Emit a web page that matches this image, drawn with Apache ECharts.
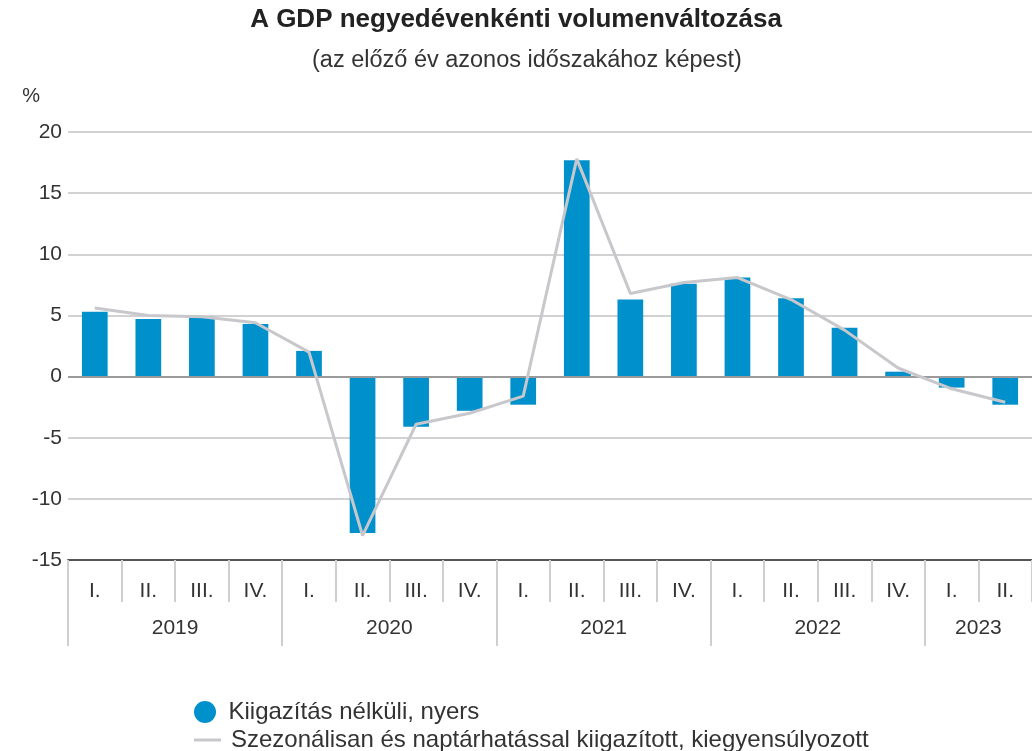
<!DOCTYPE html>
<html>
<head>
<meta charset="utf-8">
<script src="https://cdn.jsdelivr.net/npm/echarts@6/dist/echarts.min.js"></script>
<style>
  html, body { margin: 0; padding: 0; background: #fff; }
  #chart { width: 1032px; height: 751px; }
</style>
</head>
<body>
<div id="chart"></div>
<script>
// quarters 2019 I. .. 2023 II.
const quarters = ['I.', 'II.', 'III.', 'IV.', 'I.', 'II.', 'III.', 'IV.', 'I.', 'II.', 'III.', 'IV.', 'I.', 'II.', 'III.', 'IV.', 'I.', 'II.']
const years = ['2019', '2020', '2021', '2022', '2023']
const yearStart = [0, 4, 8, 12, 16]
const yearMid = [2, 6, 10, 14, 17]

// unadjusted, raw (%)
const rawValues = [5.3, 4.7, 4.9, 4.3, 2.1, -12.8, -4.1, -2.8, -2.3, 17.7, 6.3, 7.6, 8.1, 6.4, 4.0, 0.4, -0.9, -2.3]
// seasonally and calendar adjusted (%)
const adjValues = [5.6, 5.0, 4.9, 4.4, 2.0, -13.0, -3.9, -3.0, -1.6, 17.8, 6.8, 7.7, 8.1, 6.3, 3.8, 0.7, -1.0, -2.1]

const rawName = 'Kiigazítás nélküli, nyers'
const adjName = 'Szezonálisan és naptárhatással kiigazított, kiegyensúlyozott'

const font = 'Arial, "Liberation Sans", sans-serif'
const legendText = { fontSize: 24, color: '#333', fontFamily: font, padding: [0, 0, 0, 5] }

const chart = echarts.init(document.getElementById('chart'))
chart.setOption({
  animation: false,
  textStyle: { fontFamily: font },
  title: [
    {
      text: 'A GDP negyedévenkénti volumenváltozása',
      left: 'center',
      top: 2,
      textStyle: { fontSize: 26, fontWeight: 'bold', color: '#222', fontFamily: font }
    },
    {
      text: '(az előző év azonos időszakához képest)',
      left: 307,
      top: 44,
      textStyle: { fontSize: 23.5, fontWeight: 'normal', color: '#333', fontFamily: font }
    }
  ],
  legend: [
    {
      left: 189,
      top: 695,
      itemWidth: 27,
      itemHeight: 22,
      textStyle: legendText,
      data: [{ name: rawName, icon: 'circle' }]
    },
    {
      left: 189,
      top: 723,
      itemWidth: 27,
      itemHeight: 3,
      textStyle: legendText,
      data: [{ name: adjName, icon: 'rect' }]
    }
  ],
  grid: { left: 68, right: 0, top: 132, bottom: 191, containLabel: false },
  xAxis: [
    {
      type: 'category',
      data: quarters,
      position: 'bottom',
      axisLine: { onZero: false, lineStyle: { color: '#555', width: 2 } },
      axisTick: { show: true, length: 42, lineStyle: { color: '#cfcfcf', width: 2 } },
      axisLabel: { margin: 21, fontSize: 21, color: '#333' },
      splitLine: { show: false }
    },
    {
      type: 'value',
      min: 0,
      max: 18,
      position: 'bottom',
      axisLine: { show: false, onZero: false },
      axisTick: { show: true, length: 86, customValues: yearStart, lineStyle: { color: '#cfcfcf', width: 2 } },
      axisLabel: {
        margin: 58,
        fontSize: 21,
        color: '#333',
        customValues: yearMid,
        formatter: v => years[yearMid.indexOf(v)]
      },
      splitLine: { show: false }
    }
  ],
  yAxis: {
    type: 'value',
    min: -15,
    max: 20,
    interval: 5,
    name: '%',
    nameLocation: 'end',
    nameGap: 26,
    nameTextStyle: { fontSize: 20, color: '#333', align: 'right', padding: [0, 28, 0, 0] },
    axisLine: { show: false },
    axisTick: { show: false },
    axisLabel: { margin: 6, fontSize: 21, color: '#333' },
    splitLine: { lineStyle: { color: '#d2d2d2', width: 2 } }
  },
  series: [
    {
      name: rawName,
      type: 'bar',
      data: rawValues,
      barWidth: '48%',
      itemStyle: { color: '#0090cc' },
      markLine: {
        silent: true,
        symbol: 'none',
        label: { show: false },
        lineStyle: { color: '#9a9a9a', width: 2, type: 'solid' },
        data: [{ yAxis: 0 }]
      }
    },
    {
      name: adjName,
      type: 'line',
      data: adjValues,
      symbol: 'none',
      z: 5,
      lineStyle: { color: '#c8c8cc', width: 3 },
      itemStyle: { color: '#c8c8cc' }
    }
  ]
})
</script>
</body>
</html>
